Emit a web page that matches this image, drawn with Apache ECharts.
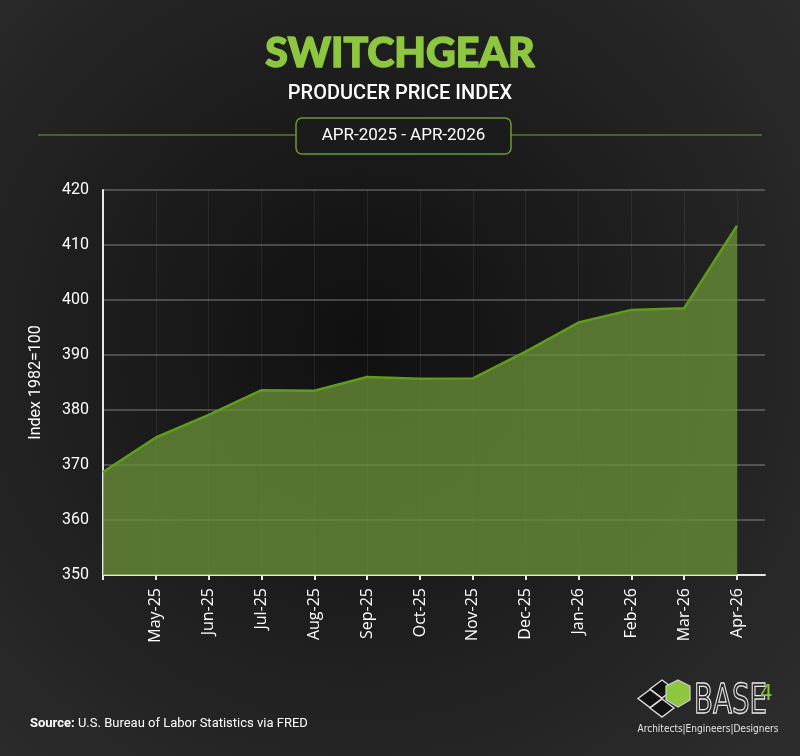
<!DOCTYPE html>
<html>
<head>
<meta charset="utf-8">
<title>Switchgear PPI</title>
<script src="https://cdn.jsdelivr.net/npm/echarts@6/dist/echarts.min.js"></script>
<style>
  html, body { margin: 0; padding: 0; background: #1c1c1c; }
  #chart { width: 800px; height: 756px; }
</style>
</head>
<body>
<div id="chart"></div>
<script>
// months (Apr-25 sits on the y axis and has no label)
const months = ['Apr-25', 'May-25', 'Jun-25', 'Jul-25', 'Aug-25', 'Sep-25', 'Oct-25',
  'Nov-25', 'Dec-25', 'Jan-26', 'Feb-26', 'Mar-26', 'Apr-26']
const ppiValues = [368.7, 375.0, 379.1, 383.6, 383.5, 386.0, 385.7,
  385.75, 390.6, 395.9, 398.2, 398.5, 413.5]
const yTicks = [350, 360, 370, 380, 390, 400, 410, 420]

const GREEN = '#8dc63f'
const fontMain = 'Roboto, "Noto Sans", sans-serif'

const chart = echarts.init(document.getElementById('chart'), null, { renderer: 'canvas' })

const seriesData = ppiValues.map((v, i) => [i, v])
const tickIdx = months.map((m, i) => i)
const labelIdx = tickIdx.slice(1)

// small diamond for the logo
const diamond = (cx, cy) => ({
  type: 'polygon',
  shape: { points: [[cx, cy - 9], [cx + 12, cy], [cx, cy + 9], [cx - 12, cy]] },
  style: { fill: '#121212', stroke: '#dcdcdc', lineWidth: 1.4 }
})

const option = {
  backgroundColor: new echarts.graphic.RadialGradient(0.45, 0.45, 0.75, [
    { offset: 0, color: '#101010' },
    { offset: 1, color: '#2c2c2c' }
  ]),
  title: [
    {
      text: 'SWITCHGEAR',
      left: 'center',
      top: 28,
      textStyle: {
        color: GREEN, fontSize: 41, fontWeight: 900, fontFamily: 'Lato, "Noto Sans", sans-serif',
        textBorderColor: GREEN, textBorderWidth: 1.5
      }
    },
    {
      text: 'PRODUCER PRICE INDEX',
      left: 'center',
      top: 79,
      textStyle: { color: '#ffffff', fontSize: 20, fontWeight: 500, fontFamily: fontMain }
    }
  ],
  grid: {
    left: 103,
    right: 35,
    top: 190,
    bottom: 181,
    containLabel: false
  },
  xAxis: {
    type: 'value',
    min: 0,
    max: 12.53,
    interval: 1,
    axisLine: { show: true, lineStyle: { color: '#e6e6e6', width: 2 } },
    axisTick: {
      show: true,
      length: 5,
      customValues: tickIdx,
      lineStyle: { color: '#e6e6e6', width: 2 }
    },
    axisLabel: {
      customValues: labelIdx,
      rotate: 90,
      color: '#ffffff',
      fontSize: 16,
      fontFamily: '"Open Sans", Roboto, sans-serif',
      margin: 13,
      formatter: (v) => months[Math.round(v)] || ''
    },
    splitLine: { show: true, lineStyle: { color: 'rgba(255,255,255,0.07)', width: 1 } }
  },
  yAxis: {
    type: 'value',
    min: yTicks[0],
    max: yTicks[yTicks.length - 1],
    interval: 10,
    name: 'Index 1982=100',
    nameLocation: 'middle',
    nameGap: 59,
    nameRotate: 90,
    nameTextStyle: { color: '#ffffff', fontSize: 16, fontFamily: fontMain },
    axisLine: { show: true, lineStyle: { color: '#e6e6e6', width: 2 } },
    axisTick: { show: false },
    axisLabel: { color: '#ffffff', fontSize: 16, fontFamily: fontMain, margin: 14 },
    splitLine: { show: true, lineStyle: { color: 'rgba(255,255,255,0.22)', width: 2 } }
  },
  series: [
    {
      type: 'line',
      data: seriesData,
      symbol: 'none',
      smooth: false,
      lineStyle: { color: '#5f9c1c', width: 2.5 },
      areaStyle: { color: 'rgba(107, 145, 56, 0.76)', opacity: 1 },
      z: 3
    }
  ],
  graphic: [
    // rule under the subtitle, with the date box on top
    { type: 'line', shape: { x1: 38, y1: 135, x2: 762, y2: 135 }, style: { stroke: '#58792b', lineWidth: 1.5 }, z: 1 },
    {
      type: 'rect',
      shape: { x: 296, y: 118, width: 215, height: 36, r: 6 },
      style: { fill: '#1b1b1b', stroke: '#6c9a2c', lineWidth: 1.5 },
      z: 2
    },
    {
      type: 'text',
      x: 403.5, y: 136,
      style: { text: 'APR-2025 - APR-2026', fill: '#ffffff', font: '17px Roboto, sans-serif', align: 'center', verticalAlign: 'middle' },
      z: 3
    },
    // source note
    {
      type: 'text',
      x: 30, y: 724,
      style: {
        text: '{b|Source:} U.S. Bureau of Labor Statistics via FRED',
        fill: '#ffffff',
        font: '13px Roboto, sans-serif',
        verticalAlign: 'middle',
        rich: { b: { fontWeight: 'bold', fontSize: 13, fill: '#ffffff', fontFamily: 'Roboto, sans-serif' } }
      }
    },
    // BASE4 logo
    {
      type: 'group',
      children: [
        diamond(662, 689),
        diamond(650, 698.5),
        diamond(662, 708),
        {
          type: 'polygon',
          shape: { points: [[678, 680], [690, 686], [690, 700], [678, 707], [666, 700], [666, 686]] },
          style: { fill: GREEN, stroke: '#d0d0d0', lineWidth: 1.2 }
        },
        {
          type: 'text', x: 694, y: 703, scaleX: 0.77,
          style: { text: 'BASE', fill: 'none', stroke: '#e6e6e6', lineWidth: 1.3, font: '40px "DejaVu Sans Condensed", sans-serif', verticalAlign: 'middle' }
        },
        {
          type: 'text', x: 760, y: 694,
          style: { text: '4', fill: GREEN, font: '22px "DejaVu Sans Condensed", sans-serif', verticalAlign: 'middle' }
        },
        {
          type: 'text', x: 708, y: 729,
          style: { text: 'Architects|Engineers|Designers', fill: '#e6e6e6', font: '10px "DejaVu Sans Condensed", Roboto, sans-serif', align: 'center', verticalAlign: 'middle' }
        }
      ]
    }
  ]
}

chart.setOption(option)
</script>
</body>
</html>
